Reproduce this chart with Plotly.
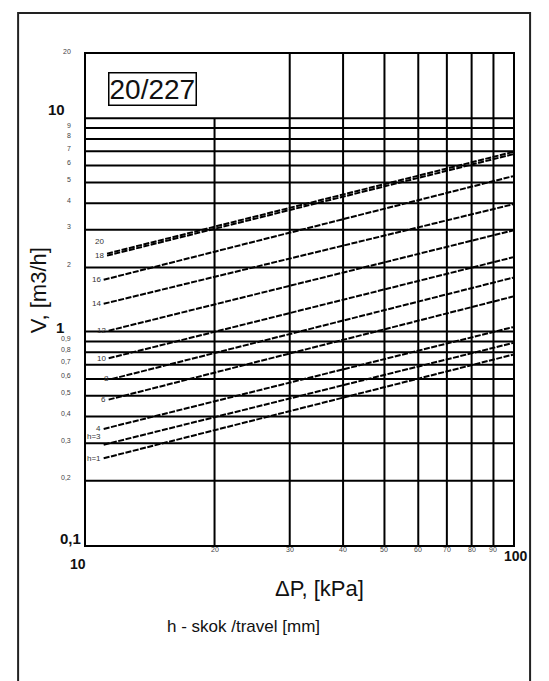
import math
import plotly.graph_objects as go

# ---------------- data ----------------
travel_labels = ["20", "18", "16", "14", "12", "10", "8", "6", "4", "h=3", "h=1"]
dp_start = [11.2, 11.2, 11.0, 11.0, 11.3, 11.3, 11.5, 11.3, 11.0, 11.0, 11.0]
v_start = [2.32, 2.27, 1.75, 1.35, 1.01, 0.75, 0.60, 0.48, 0.35, 0.295, 0.255]
dp_end = [100, 100, 100, 100, 100, 100, 100, 100, 100, 100, 100]
v_end = [6.95, 6.78, 5.35, 3.95, 2.98, 2.23, 1.79, 1.46, 1.05, 0.885, 0.78]

y_grid = [0.2, 0.3, 0.4, 0.5, 0.6, 0.7, 0.8, 0.9, 1, 2, 3, 4, 5, 6, 7, 8, 9, 10]
x_grid = [20, 30, 40, 50, 60, 70, 80, 90]
y_small_ticks = [20, 9, 8, 7, 6, 5, 4, 3, 2, 0.9, 0.8, 0.7, 0.6, 0.5, 0.4, 0.3, 0.2]
y_small_text = ["20", "9", "8", "7", "6", "5", "4", "3", "2",
                "0,9", "0,8", "0,7", "0,6", "0,5", "0,4", "0,3", "0,2"]
x_small_ticks = [20, 30, 40, 50, 60, 70, 80, 90]
x_small_text = ["20", "30", "40", "50", "60", "70", "80", "90"]

Y_MIN, Y_MAX, Y_TOP_GRID = 0.1, 20, 10
X_MIN, X_MAX = 10, 100

FONT = "Liberation Sans, Arial, sans-serif"

fig = go.Figure()

# horizontal gridlines
hx, hy = [], []
for g in y_grid:
    hx += [X_MIN, X_MAX, None]
    hy += [g, g, None]
fig.add_trace(go.Scatter(x=hx, y=hy, mode="lines",
                         line=dict(color="black", width=2),
                         hoverinfo="skip", showlegend=False))
# vertical gridlines (20 stops at the 10 line, others reach the top)
vx, vy = [], []
for g in x_grid:
    top = Y_TOP_GRID if g == 20 else Y_MAX
    vx += [g, g, None]
    vy += [Y_MIN, top, None]
fig.add_trace(go.Scatter(x=vx, y=vy, mode="lines",
                         line=dict(color="black", width=2),
                         hoverinfo="skip", showlegend=False))

# characteristic lines
for lab, x0, y0, x1, y1 in zip(travel_labels, dp_start, v_start, dp_end, v_end):
    fig.add_trace(go.Scatter(x=[x0, x1], y=[y0, y1], mode="lines",
                             line=dict(color="black", width=2, dash="6px,1.5px"),
                             name=lab, hoverinfo="skip", showlegend=False))

ann = []
# curve labels
label_shift = {"20": 12, "h=3": 8}
for lab, x0, y0 in zip(travel_labels, dp_start, v_start):
    ann.append(dict(x=math.log10(x0), y=math.log10(y0), xref="x", yref="y",
                    text=lab, showarrow=False, xanchor="right", yanchor="middle",
                    xshift=-1, yshift=label_shift.get(lab, 0),
                    font=dict(family=FONT, size=8, color="#333")))

# small y tick labels
for v, t in zip(y_small_ticks, y_small_text):
    ann.append(dict(x=-0.031, y=math.log10(v), xref="paper", yref="y",
                    text=t, showarrow=False, xanchor="right", yanchor="middle",
                    yshift=3, font=dict(family=FONT, size=7, color="#444")))
# bold y labels
ann.append(dict(x=-0.045, y=math.log10(10), xref="paper", yref="y", text="<b>10</b>",
                showarrow=False, xanchor="right", yanchor="middle", yshift=9,
                font=dict(family=FONT, size=15, color="#111")))
ann.append(dict(x=-0.047, y=math.log10(1), xref="paper", yref="y", text="<b>1</b>",
                showarrow=False, xanchor="right", yanchor="middle", yshift=4,
                font=dict(family=FONT, size=15, color="#111")))
ann.append(dict(x=-0.007, y=math.log10(0.1), xref="paper", yref="y", text="<b>0,1</b>",
                showarrow=False, xanchor="right", yanchor="middle", yshift=7,
                font=dict(family=FONT, size=15, color="#111")))

# small x tick labels
for v, t in zip(x_small_ticks, x_small_text):
    ann.append(dict(x=math.log10(v), y=0, xref="x", yref="paper", text=t,
                    showarrow=False, xanchor="center", yanchor="middle", yshift=-4,
                    font=dict(family=FONT, size=7, color="#444")))
ann.append(dict(x=math.log10(10), y=0, xref="x", yref="paper", text="<b>10</b>",
                showarrow=False, xanchor="center", yanchor="middle",
                xshift=-8, yshift=-19, font=dict(family=FONT, size=14, color="#111")))
ann.append(dict(x=math.log10(100), y=0, xref="x", yref="paper", text="<b>100</b>",
                showarrow=False, xanchor="center", yanchor="middle",
                xshift=3, yshift=-11, font=dict(family=FONT, size=14, color="#111")))

# axis titles
ann.append(dict(x=-0.1124, y=0.519, xref="paper", yref="paper", text="V, [m3/h]",
                showarrow=False, textangle=-90, xanchor="center", yanchor="middle",
                font=dict(family=FONT, size=22, color="#111")))
ann.append(dict(x=0.548, y=-0.088, xref="paper", yref="paper", text="ΔP, [kPa]",
                showarrow=False, xanchor="center", yanchor="middle",
                font=dict(family=FONT, size=22, color="#111")))
ann.append(dict(x=0.370, y=-0.165, xref="paper", yref="paper",
                text="h - skok /travel [mm]",
                showarrow=False, xanchor="center", yanchor="middle",
                font=dict(family=FONT, size=17, color="#111")))

# boxed title
ann.append(dict(x=0.155, y=0.9297, xref="paper", yref="paper", text="20/227",
                showarrow=False, xanchor="center", yanchor="middle",
                bordercolor="black", borderwidth=1.5, borderpad=0,
                bgcolor="white",
                font=dict(family=FONT, size=28, color="#111")))

# page body has an 8px margin: figure is 8px smaller so it fits the window
fig.update_layout(
    width=541, height=673,
    margin=dict(l=78, r=36, t=46, b=136),
    paper_bgcolor="white", plot_bgcolor="white",
    showlegend=False, hovermode=False,
    annotations=ann,
    shapes=[dict(type="rect", xref="paper", yref="paper",
                 x0=-0.159, x1=1.04, y0=-0.40, y1=1.0835,
                 line=dict(color="#222", width=2), layer="below")],
    xaxis=dict(type="log", range=[math.log10(X_MIN), math.log10(X_MAX)],
               showgrid=False, zeroline=False, showticklabels=False, ticks="",
               showline=True, mirror=True, linecolor="black", linewidth=2),
    yaxis=dict(type="log", range=[math.log10(Y_MIN), math.log10(Y_MAX)],
               showgrid=False, zeroline=False, showticklabels=False, ticks="",
               showline=True, mirror=True, linecolor="black", linewidth=2),
)

fig.write_html("out.html")
